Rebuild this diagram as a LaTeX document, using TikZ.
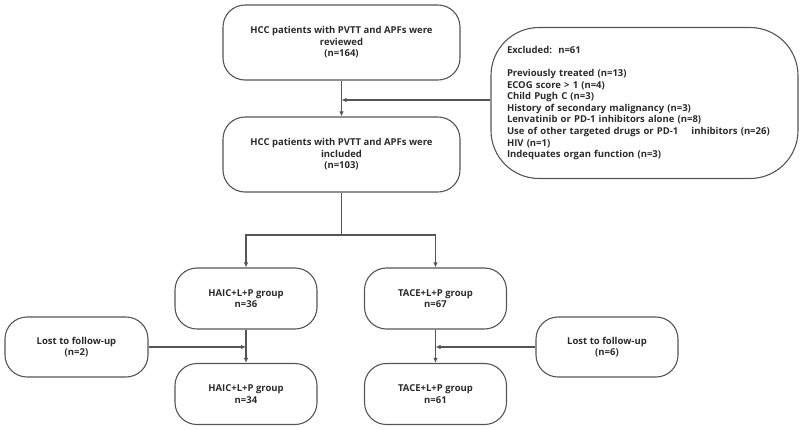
\documentclass[tikz,border=0pt]{standalone}
\usepackage{fontspec}
\setmainfont{Open Sans}
\usepackage{tikz}
\usetikzlibrary{arrows.meta}
\usetikzlibrary{calc}
\definecolor{linegray}{HTML}{555555}
\definecolor{textgray}{HTML}{2B2B2B}

\begin{document}
\begin{tikzpicture}[x=1pt, y=-1pt, line width=1.1pt,
        node_style/.style={draw=linegray, rounded corners=22pt, align=center, inner sep=0pt,
            text=textgray, font=\fontsize{9.5}{11.6}\selectfont\bfseries},
        edge_style/.style={draw=linegray, line width=1.1pt, -},
        arrow_style/.style={draw=linegray, line width=1.1pt, -{Latex[length=5pt,width=4.5pt]}}]

        \useasboundingbox (0,0) rectangle (800,429);

        \node [node_style, minimum width=237pt, minimum height=75pt](n1) at (341.5,42.5) {HCC patients with PVTT and APFs were\\reviewed\\(n=164)};
        \node [node_style, minimum width=237pt, minimum height=75pt](n2) at (341.5,154.5) {HCC patients with PVTT and APFs were\\included\\(n=103)};
        \node [node_style, rounded corners=48pt, minimum width=307pt, minimum height=151pt, align=left, text width=275pt](n3) at (644.5,103) {Excluded:\ \ n=61\\[11.6pt]Previously treated (n=13)\\ECOG score > 1 (n=4)\\Child Pugh C (n=3)\\History of secondary malignancy (n=3)\\Lenvatinib or PD-1 inhibitors alone (n=8)\\Use of other targeted drugs or PD-1\hspace{13pt}inhibitors (n=26)\\HIV (n=1)\\Indequates organ function (n=3)};
        \node [node_style, minimum width=142pt, minimum height=61pt](n4) at (246,298.5) {HAIC+L+P group\\n=36};
        \node [node_style, minimum width=142pt, minimum height=61pt](n5) at (435.5,298.5) {TACE+L+P group\\n=67};
        \node [node_style, minimum width=142pt, minimum height=61pt](n6) at (246,394) {HAIC+L+P group\\n=34};
        \node [node_style, minimum width=142pt, minimum height=61pt](n7) at (435.5,394) {TACE+L+P group\\n=61};
        \node [node_style, minimum width=143pt, minimum height=60pt](n8) at (76.5,347) {Lost to follow-up\\(n=2)};
        \node [node_style, minimum width=142pt, minimum height=60pt](n9) at (607,347) {Lost to follow-up\\(n=6)};

        \coordinate (j1) at (341.5,100);
        \coordinate (j2) at (341.5,235);
        \coordinate (j3) at (246,347);
        \coordinate (j4) at (435.5,347);

        \draw [arrow_style] (n1) -- (n2);
        \draw [arrow_style] (j1 -| n3.west) -- (j1);
        \draw [edge_style] (n2) -- (j2);
        \draw [arrow_style] (j2) -| (n4);
        \draw [arrow_style] (j2) -| (n5);
        \draw [arrow_style] (n4) -- (n6);
        \draw [arrow_style] (n5) -- (n7);
        \draw [arrow_style] (n8) -- (j3);
        \draw [arrow_style] (n9) -- (j4);
\end{tikzpicture}
\end{document}
